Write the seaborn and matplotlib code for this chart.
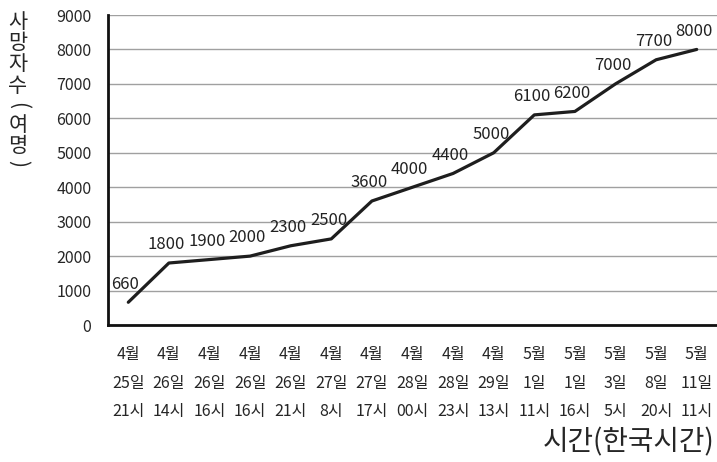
import numpy as np
import pandas as pd
import seaborn as sns
import matplotlib
matplotlib.use('Agg')
import matplotlib.pyplot as plt

# 사망자 추이 (reported times, KST)
months = ['4월'] * 10 + ['5월'] * 5
days = ['25일', '26일', '26일', '26일', '26일', '27일', '27일', '28일', '28일', '29일',
        '1일', '1일', '3일', '8일', '11일']
hours = ['21시', '14시', '16시', '16시', '21시', '8시', '17시', '00시', '23시', '13시',
         '11시', '16시', '5시', '20시', '11시']
deaths = [660, 1800, 1900, 2000, 2300, 2500, 3600, 4000, 4400, 5000,
          6100, 6200, 7000, 7700, 8000]

tick_labels = [m + '\n' + d + '\n' + h for m, d, h in zip(months, days, hours)]
df = pd.DataFrame({'pos': np.arange(len(deaths)), 'deaths': deaths})

sns.set_theme(style='white')
plt.rcParams['font.family'] = ['Noto Sans CJK KR', 'DejaVu Sans']

fig = plt.figure(figsize=(7.17, 4.62), dpi=100)
ax = fig.add_axes([108 / 717, 1 - 325 / 462, (717 - 108) / 717, 310 / 462])

sns.lineplot(data=df, x='pos', y='deaths', ax=ax, color='#1e1e1e', linewidth=2.3)

for x, y in zip(df['pos'], df['deaths']):
    ax.annotate(str(y), (x, y), xytext=(-2, 7), textcoords='offset points',
                ha='center', va='bottom', fontsize=12, color='#222222')

ax.set_xlim(-0.5, len(deaths) - 0.5)
ax.set_ylim(0, 9000)
ax.set_yticks(range(0, 9001, 1000))
ax.set_xticks(df['pos'])
ax.set_xticklabels(tick_labels, linespacing=1.9, fontsize=11.5)
ax.tick_params(axis='x', length=0, pad=15)
ax.tick_params(axis='y', length=0, pad=12, labelsize=11.5)
ax.yaxis.grid(True, color='#a0a0a0', linewidth=1)
ax.set_axisbelow(True)

for s in ['top', 'right']:
    ax.spines[s].set_visible(False)
for s in ['left', 'bottom']:
    ax.spines[s].set_color('#111111')
    ax.spines[s].set_linewidth(2)

ax.set_xlabel('')
ax.set_ylabel('')

fig.text(715 / 717, 1 - 442 / 462, '시간(한국시간)', ha='right', va='center', fontsize=20)

# vertical y label: hangul upright, brackets turned
ylab = [('사', 22), ('망', 43), ('자', 64), ('수', 86), ('(', 106), ('여', 125), ('명', 146), (')', 163)]
for ch, py in ylab:
    rot = -90 if ch in '()' else 0
    fig.text(18 / 717, 1 - py / 462, ch, ha='center', va='center', fontsize=15,
             rotation=rot, rotation_mode='anchor')

fig.savefig('out.png', dpi=100)
